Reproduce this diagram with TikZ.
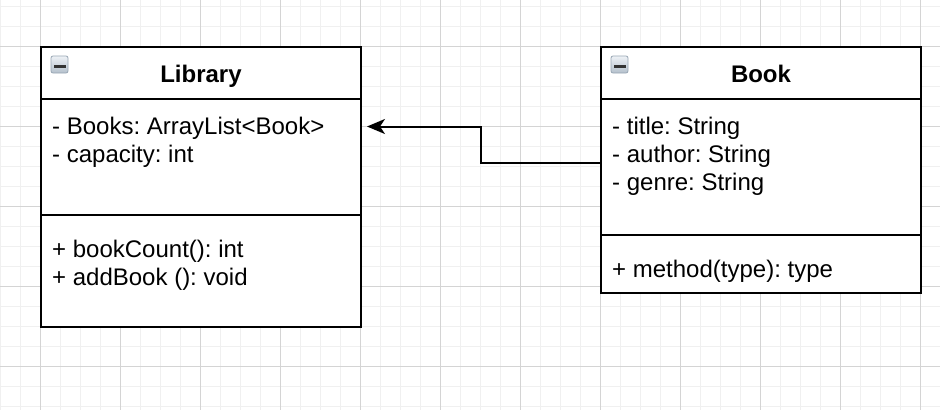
\documentclass[tikz,border=0pt]{standalone}
\usepackage{fontspec}
\setmainfont{Liberation Sans}
\usetikzlibrary{arrows.meta}
\definecolor{gridminor}{HTML}{F0F0F0}
\definecolor{gridmajor}{HTML}{D4D4D4}
\definecolor{iconedge}{HTML}{98A6B4}
\definecolor{icontop}{HTML}{EEF2F6}
\definecolor{iconbot}{HTML}{B4C0CC}
\tikzset{
  classbox/.style={draw=black, line width=2pt, fill=white, inner sep=0pt, rectangle},
  sepline/.style={draw=black, line width=2pt},
  member/.style={anchor=base west, inner sep=0pt, font=\fontsize{24}{28}\selectfont},
  title/.style={anchor=base, inner sep=0pt, font=\fontsize{24}{28}\selectfont\bfseries},
  icon/.style={draw=iconedge, line width=0.8pt, rounded corners=2pt, top color=icontop, bottom color=iconbot},
  assoc/.style={draw=black, line width=2pt, -{Stealth[length=18pt, width=15pt, inset=5pt]}},
}
\frenchspacing
\begin{document}
\begin{tikzpicture}[x=1pt, y=-1pt]
\useasboundingbox (0,0) rectangle (940,410);
\fill[white] (0,0) rectangle (940,410);
% grid
\foreach \gx in {0,20,...,940} \draw[gridminor, line width=1pt] (\gx,0) -- (\gx,410);
\foreach \gy in {6,26,...,406} \draw[gridminor, line width=1pt] (0,\gy) -- (940,\gy);
\foreach \gx in {40,120,...,920} \draw[gridmajor, line width=1pt] (\gx,0) -- (\gx,410);
\foreach \gy in {46,126,...,366} \draw[gridmajor, line width=1pt] (0,\gy) -- (940,\gy);

% Library class
\node[classbox, minimum width=320pt, minimum height=280pt] (lib) at (201,187) {};
\coordinate (libh) at (41,99);
\coordinate (libm) at (41,215);
\draw[sepline] (libh) -- (libh -| lib.east);
\draw[sepline] (libm) -- (libm -| lib.east);
\node[title] (libtitle) at (201,82) {Library};
\path[icon] (51,56) rectangle (68,73);
\fill[black!80] (53.5,65) rectangle (65.5,67.5);
\node[member] (liba1) at (52,134.5) {- Books: ArrayList<Book>};
\node[member] (liba2) at (52,162.5) {- capacity: int};
\node[member] (libm1) at (52,257.7) {+ bookCount(): int};
\node[member] (libm2) at (52,285.7) {+ addBook (): void};

% Book class
\node[classbox, minimum width=320pt, minimum height=246pt] (book) at (761,170) {};
\coordinate (bookh) at (601,99);
\coordinate (bookm) at (601,235);
\draw[sepline] (bookh) -- (bookh -| book.east);
\draw[sepline] (bookm) -- (bookm -| book.east);
\node[title] (booktitle) at (761,82) {Book};
\path[icon] (611,56) rectangle (628,73);
\fill[black!80] (613.5,65) rectangle (625.5,67.5);
\node[member] (booka1) at (612,134.5) {- title: String};
\node[member] (booka2) at (612,162.5) {- author: String};
\node[member] (booka3) at (612,190.5) {- genre: String};
\node[member] (bookm1) at (612,277.3) {+ method(type): type};

% association
\coordinate (bs) at (601,162.5);
\coordinate (bend1) at (481,162.5);
\coordinate (bend2) at (481,126.5);
\coordinate (lt) at (367,126.5);
\draw[assoc] (bs) -- (bend1) -- (bend2) -- (lt);
\end{tikzpicture}
\end{document}
